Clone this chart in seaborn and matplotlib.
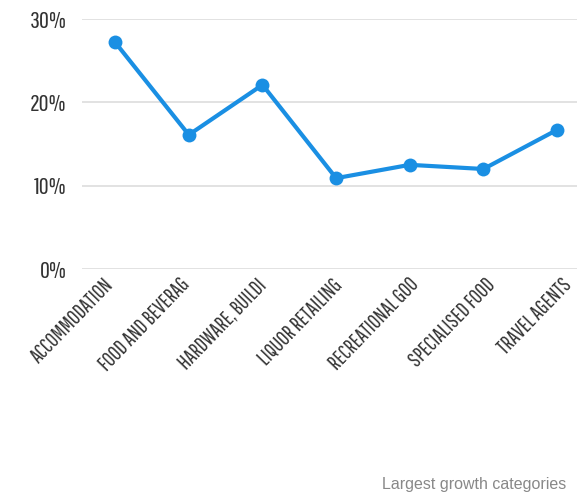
import matplotlib
matplotlib.use("Agg")
import matplotlib.pyplot as plt
import matplotlib.transforms as mtransforms
import seaborn as sns
import pandas as pd
from matplotlib import font_manager as fm

categories = ["ACCOMMODATION", "FOOD AND BEVERAG", "HARDWARE, BUILDI", "LIQUOR RETAILING",
              "RECREATIONAL GOO", "SPECIALISED FOOD", "TRAVEL AGENTS"]
growth = [27.2, 16.1, 22.1, 10.9, 12.5, 12.0, 16.7]
yticks = [0, 10, 20, 30]
ytick_labels = ["0%", "10%", "20%", "30%"]

sns.set_theme(style="white")
names = {f.name for f in fm.fontManager.ttflist}
cond = "DejaVu Sans"
for cand in ["Pathway Gothic One", "League Gothic", "Bebas Neue", "Oswald",
             "Roboto Condensed", "Archivo Narrow", "PT Sans Narrow", "Liberation Sans Narrow"]:
    if cand in names:
        cond = cand
        break
plt.rcParams['font.family'] = [cond, 'DejaVu Sans']

df = pd.DataFrame({"cat": categories, "val": growth, "x": range(len(categories))})

W, H = 577, 496
fig = plt.figure(figsize=(W/100, H/100), dpi=100)
ax = fig.add_axes([82/W, 1-269/H, (577-82)/W, (269-19)/H])

sns.lineplot(data=df, x="x", y="val", ax=ax, color="#1a8fe3", linewidth=3,
             marker="o", markersize=10, markeredgewidth=0, clip_on=False, zorder=3)

ax.set_xlim(-0.45, 6.27)
ax.set_ylim(0, 30)
ax.set_yticks(yticks)
ax.set_yticklabels(ytick_labels, fontsize=17.5, color="#333333")
ax.set_xticks(range(len(categories)))
ax.set_xticklabels(categories, rotation=46, ha="right", rotation_mode="anchor",
                   fontsize=15, color="#333333")
ax.tick_params(axis="y", length=0, pad=11)
ax.tick_params(axis="x", length=0, pad=4)
for i, lbl in enumerate(ax.get_xticklabels()):
    dx_px = -12 + 2.6 * i
    off = mtransforms.ScaledTranslation(dx_px * 0.72 / 72, 0, fig.dpi_scale_trans)
    lbl.set_transform(lbl.get_transform() + off)
for y in yticks:
    ax.axhline(y, color="#dddddd", linewidth=1.2, zorder=1)
for s in ax.spines.values():
    s.set_visible(False)
ax.set_xlabel("")
ax.set_ylabel("")
ax.grid(False)

fig.text(566/W, 1-484/H, "Largest growth categories", ha="right", va="center",
         fontsize=11.5, color="#888888",
         family=["Liberation Sans", "Arimo", "Roboto", "DejaVu Sans"])

fig.savefig("out.png", dpi=100)
